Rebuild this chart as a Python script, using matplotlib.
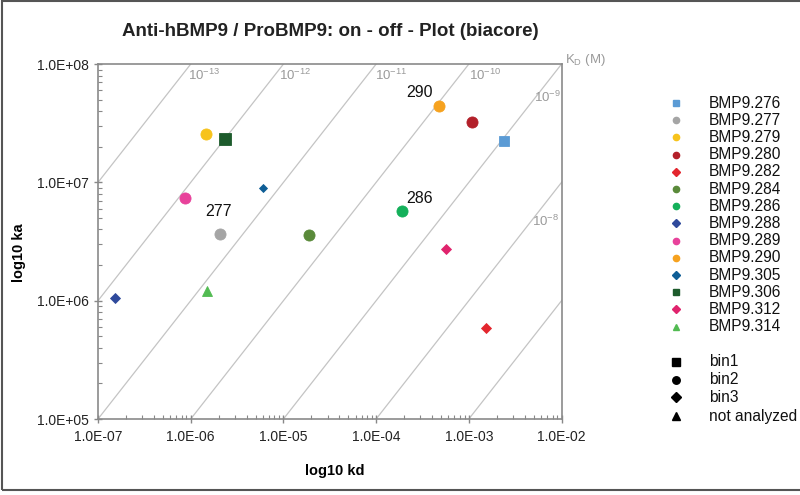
import numpy as np
import matplotlib
matplotlib.use('Agg')
import matplotlib.pyplot as plt
import matplotlib.ticker as ticker
from matplotlib.lines import Line2D
from matplotlib.patches import Rectangle

plt.rcParams['font.family'] = ['Liberation Sans', 'DejaVu Sans']
plt.rcParams['mathtext.fontset'] = 'custom'
plt.rcParams['mathtext.rm'] = 'Liberation Sans'
plt.rcParams['mathtext.it'] = 'Liberation Sans:italic'

# antibodies, off-rate (kd, 1/s) and on-rate (ka, 1/Ms)
names = ['BMP9.276', 'BMP9.277', 'BMP9.279', 'BMP9.280', 'BMP9.282', 'BMP9.284', 'BMP9.286',
         'BMP9.288', 'BMP9.289', 'BMP9.290', 'BMP9.305', 'BMP9.306', 'BMP9.312', 'BMP9.314']
kd = [2.40e-3, 2.07e-6, 1.46e-6, 1.07e-3, 1.53e-3, 1.89e-5, 1.90e-4,
      1.52e-7, 8.6e-7, 4.81e-4, 6.07e-6, 2.34e-6, 5.67e-4, 1.51e-6]
ka = [2.25e7, 3.66e6, 2.56e7, 3.25e7, 5.87e5, 3.61e6, 5.72e6,
      1.05e6, 7.37e6, 4.42e7, 8.9e6, 2.34e7, 2.73e6, 1.2e6]
bins = ['bin1', 'bin2', 'bin2', 'bin2', 'bin3', 'bin2', 'bin2',
        'bin3', 'bin2', 'bin2', 'bin3', 'bin1', 'bin3', 'not analyzed']
colors = ['#5b9bd5', '#a5a5a5', '#f7c31c', '#b3202a', '#e3262e', '#5a8a3a', '#14b05a',
          '#2f4a9c', '#e8429b', '#f6a21f', '#0f5e96', '#1d5b2c', '#e0236d', '#52bb52']
callouts = {'BMP9.290': '290', 'BMP9.286': '286', 'BMP9.277': '277'}

# iso-affinity lines (ka/kd) and their printed labels
line_ratio = [1e14, 1e13, 1e12, 1e11, 1e10, 1e9, 1e8]
kd_label_exp = [-13, -12, -11, -10, -9, -8]

bin_names = ['bin1', 'bin2', 'bin3', 'not analyzed']
bin_marker = {'bin1': 's', 'bin2': 'o', 'bin3': 'D', 'not analyzed': '^'}
bin_size = {'bin1': 7.6, 'bin2': 8.0, 'bin3': 5.1, 'not analyzed': 7.0}
size_fix = {'BMP9.306': 8.4, 'BMP9.305': 4.4}

fig = plt.figure(figsize=(8, 4.95), dpi=100)
ax = fig.add_axes([0.1225, 0.1535, 0.5794, 0.717])

xx = np.logspace(-9, 0, 50)
for r in line_ratio:
    ax.plot(xx, xx * r, color='#c4c4c4', lw=0.9, zorder=1)

for n, x, y, b, c in zip(names, kd, ka, bins, colors):
    ms = size_fix.get(n, bin_size[b])
    ax.plot(x, y, marker=bin_marker[b], color=c, ms=ms, mec=c, mew=0.6, ls='none', zorder=3)

off = {'BMP9.290': (-14, 10), 'BMP9.286': (13, 9), 'BMP9.277': (-1, 16.5)}
for n, x, y in zip(names, kd, ka):
    if n in callouts:
        ax.annotate(callouts[n], (x, y), xytext=off[n], textcoords='offset points',
                    ha='center', va='center', fontsize=11.5, color='#111111')

ax.set_xscale('log')
ax.set_yscale('log')
ax.set_xlim(1e-7, 1e-2)
ax.set_ylim(1e5, 1e8)
fmt = ticker.FuncFormatter(lambda v, p: '%.1E' % v)
ax.xaxis.set_major_formatter(fmt)
ax.yaxis.set_major_formatter(fmt)
ax.xaxis.set_major_locator(ticker.LogLocator(base=10, numticks=10))
ax.yaxis.set_major_locator(ticker.LogLocator(base=10, numticks=10))
ax.xaxis.set_minor_locator(ticker.LogLocator(base=10, subs=np.arange(2, 10), numticks=20))
ax.yaxis.set_minor_locator(ticker.LogLocator(base=10, subs=np.arange(2, 10), numticks=20))
ax.xaxis.set_minor_formatter(ticker.NullFormatter())
ax.yaxis.set_minor_formatter(ticker.NullFormatter())
ax.tick_params(which='major', direction='inout', length=6, width=1, color='#888888',
               labelsize=10, labelcolor='#222222')
ax.tick_params(which='minor', direction='in', length=3, width=0.8, color='#888888')
ax.tick_params(axis='x', pad=5)
for s in ax.spines.values():
    s.set_color('#8a8a8a')
    s.set_linewidth(1.2)

ax.set_xlabel('log10 kd', fontsize=10.5, fontweight='bold')
ax.set_ylabel('log10 ka', fontsize=10.5, fontweight='bold')
ax.xaxis.set_label_coords(0.511, -0.128)
ax.yaxis.set_label_coords(-0.155, 0.47)

# KD labels
lab_pos = [(0.229, 0.969), (0.425, 0.969), (0.632, 0.969), (0.835, 0.969), (0.969, 0.907), (0.965, 0.558)]
for e, (px, py) in zip(kd_label_exp, lab_pos):
    ax.text(px, py, r'$10^{%d}$' % e, transform=ax.transAxes, ha='center', va='center',
            fontsize=9.5, color='#9a9a9a')
ax.text(1.051, 1.011, r'K$_\mathrm{D}$ (M)', transform=ax.transAxes, ha='center', va='center',
        fontsize=9.5, color='#9a9a9a')

fig.text(0.4125, 0.937, 'Anti-hBMP9 / ProBMP9: on - off - Plot (biacore)',
         ha='center', va='center', fontsize=13.5, fontweight='bold', color='#222222')

# legend, drawn by hand
leg_small = {'bin1': 4.3, 'bin2': 4.5, 'bin3': 3.8, 'not analyzed': 5.0}
for i, (n, b, c) in enumerate(zip(names, bins, colors)):
    yf = 1 - (103 + 17.2 * i) / 495
    fig.add_artist(Line2D([0.845], [yf], marker=bin_marker[b], color=c, mec=c,
                          ms=leg_small[b], ls='none', transform=fig.transFigure))
    fig.text(0.886, yf, n, ha='left', va='center', fontsize=11.2, color='#111111')

bin_rows = [362, 380, 397, 416]
bin_leg_size = {'bin1': 5.2, 'bin2': 5.4, 'bin3': 4.6, 'not analyzed': 6.0}
for b, yp in zip(bin_names, bin_rows):
    yf = 1 - yp / 495
    fig.add_artist(Line2D([0.845], [yf], marker=bin_marker[b], color='black',
                          ms=bin_leg_size[b], ls='none', transform=fig.transFigure))
    fig.text(0.886, yf, b, ha='left', va='center', fontsize=11.2, color='#111111')

fig.add_artist(Rectangle((0.003, 0.01), 1.2, 0.987, fill=False, ec='#555555', lw=1.5,
                         transform=fig.transFigure, clip_on=False))

fig.savefig('out.png', dpi=100)
